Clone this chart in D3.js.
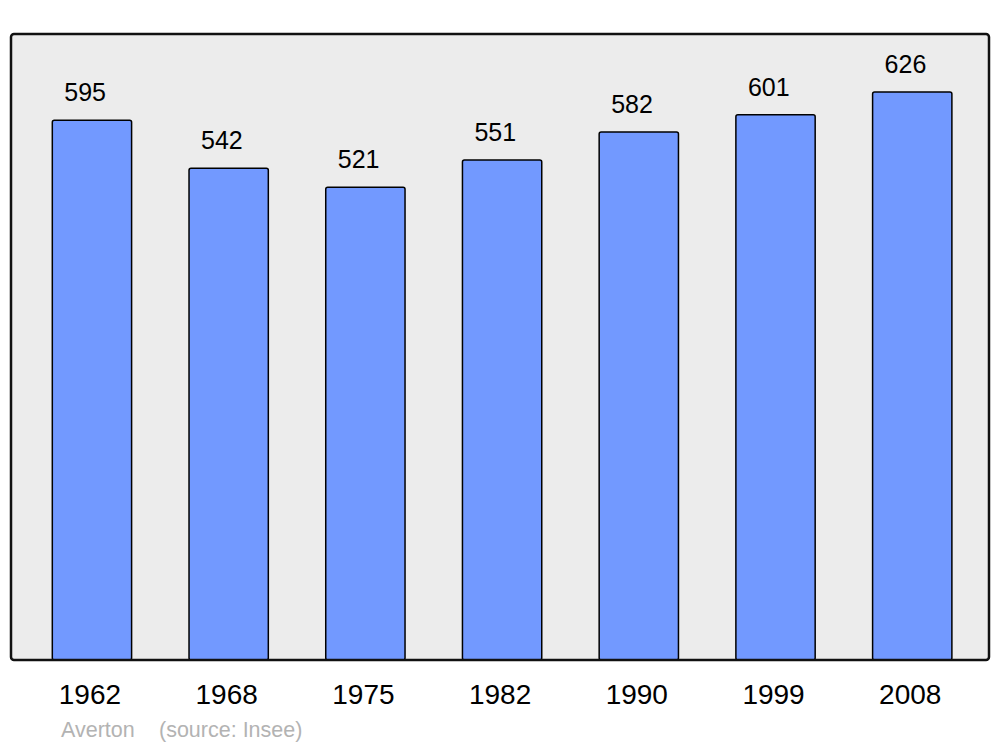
<!DOCTYPE html>
<html>
<head>
<meta charset="utf-8">
<script src="https://cdn.jsdelivr.net/npm/d3@7"></script>
<style>
  body { margin: 0; background: #fff; }
</style>
</head>
<body>
<div id="chart"></div>
<script>
var w = 1000,
    h = 747;

var years = ['1962', '1968', '1975', '1982', '1990', '1999', '2008'];
var population = [595, 542, 521, 551, 582, 601, 626];
var placeName = 'Averton';
var sourceText = '(source: Insee)';

var frame = { left: 11, right: 989, top: 34, bottom: 660 };

var svg = d3.select('#chart')
    .append('svg')
    .attr('width', w)
    .attr('height', h)
    .style('font-family', 'Liberation Sans, Arial, sans-serif');

var x = d3.scaleBand()
    .domain(years)
    .range([23.6, 980.6])
    .paddingInner(0.42)
    .paddingOuter(0.21);

var y = d3.scaleLinear()
    .domain([0, 690])
    .range([frame.bottom, frame.top]);

// background panel
svg.append('rect')
    .attr('x', frame.left)
    .attr('y', frame.top)
    .attr('width', frame.right - frame.left)
    .attr('height', frame.bottom - frame.top)
    .attr('rx', 3)
    .attr('fill', '#ececec');

var data = years.map(function(d, i) { return { year: d, value: population[i] } });

svg.selectAll('rect.bar')
    .data(data).enter()
    .append('rect')
    .attr('class', 'bar')
    .attr('x', function(d) { return x(d.year) })
    .attr('y', function(d) { return y(d.value) })
    .attr('width', x.bandwidth())
    .attr('height', function(d) { return y(0) - y(d.value) })
    .attr('rx', 2)
    .attr('fill', '#7299ff')
    .attr('stroke', '#000')
    .attr('stroke-width', 1.5);

// frame border on top of bars
svg.append('rect')
    .attr('x', frame.left)
    .attr('y', frame.top)
    .attr('width', frame.right - frame.left)
    .attr('height', frame.bottom - frame.top)
    .attr('rx', 3)
    .attr('fill', 'none')
    .attr('stroke', '#111')
    .attr('stroke-width', 2.5);

svg.selectAll('text.value')
    .data(data).enter()
    .append('text')
    .attr('class', 'value')
    .attr('x', function(d) { return x(d.year) + 12 })
    .attr('y', function(d) { return y(d.value) - 19 })
    .attr('font-size', 25)
    .attr('fill', '#000')
    .text(function(d) { return d.value });

svg.selectAll('text.year')
    .data(data).enter()
    .append('text')
    .attr('class', 'year')
    .attr('x', function(d) { return x(d.year) + x.bandwidth() / 2 - 2 })
    .attr('y', 704)
    .attr('text-anchor', 'middle')
    .attr('font-size', 28)
    .attr('fill', '#000')
    .text(function(d) { return d.year });

svg.append('text')
    .attr('x', 61)
    .attr('y', 737)
    .attr('font-size', 21.5)
    .attr('fill', '#b3b3b3')
    .text(placeName);

svg.append('text')
    .attr('x', 159)
    .attr('y', 737)
    .attr('font-size', 21.5)
    .attr('fill', '#b3b3b3')
    .text(sourceText);
</script>
</body>
</html>
